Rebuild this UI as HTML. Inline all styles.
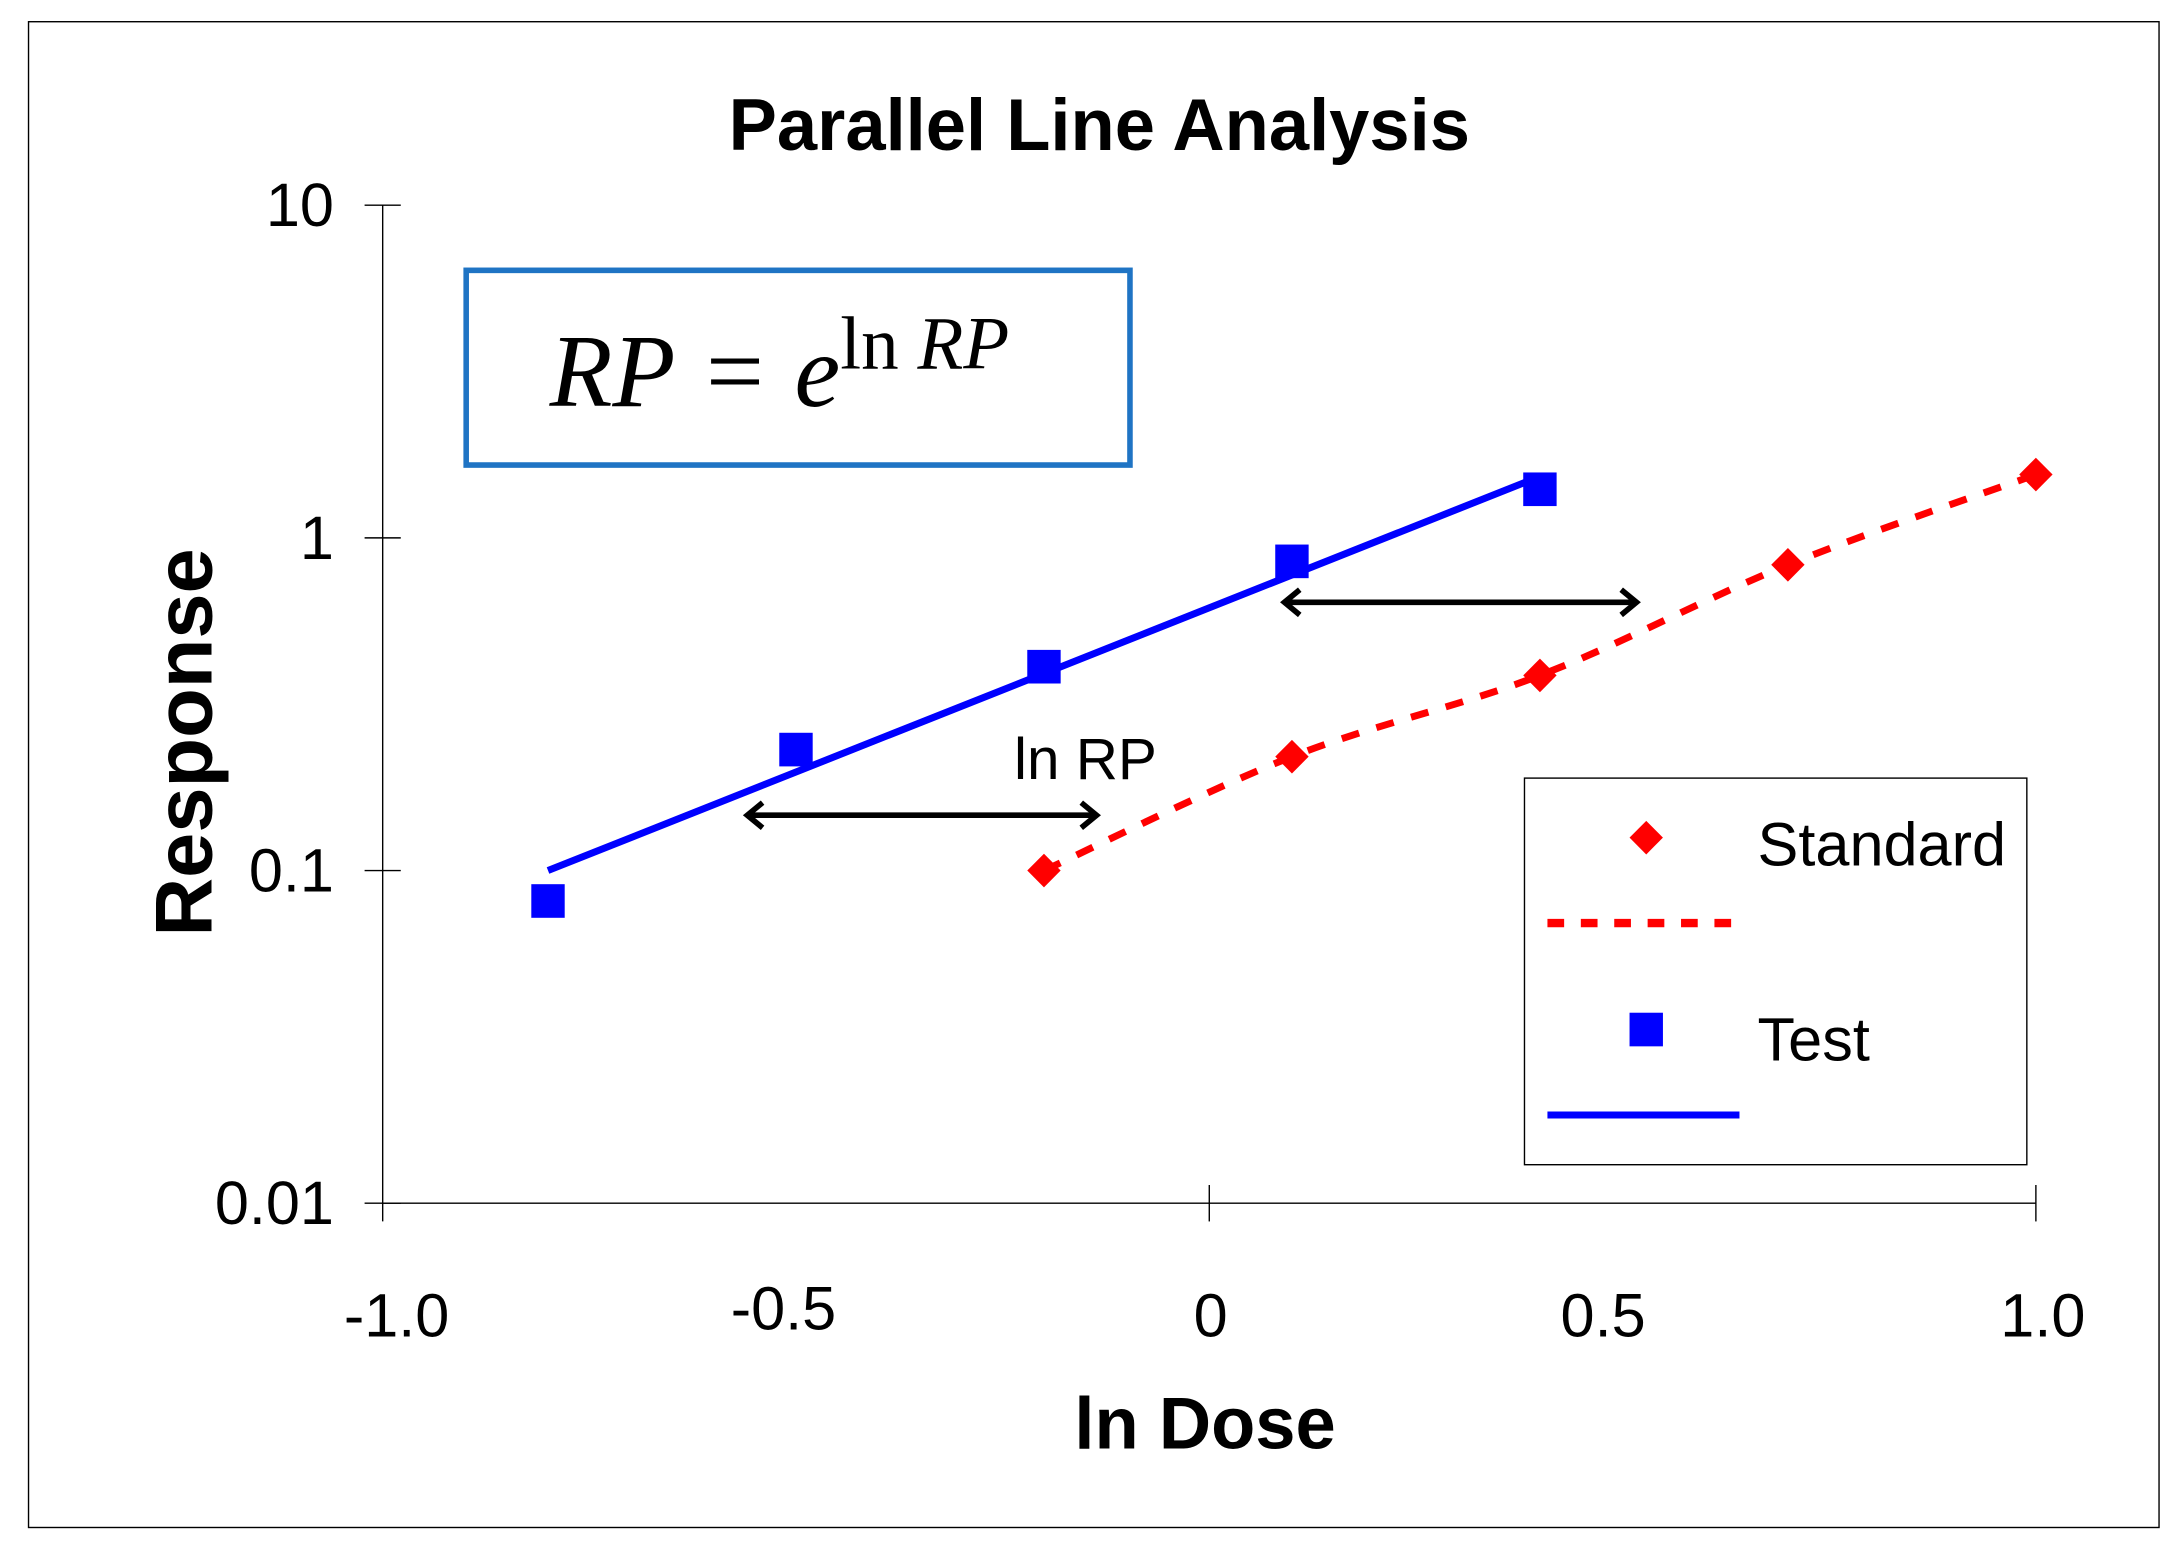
<!DOCTYPE html>
<html><head><meta charset="utf-8"><style>html,body{margin:0;padding:0;background:#fff}svg{display:block}</style></head>
<body>
<svg id="chart" width="2182" height="1545" viewBox="0 0 1568 1103" preserveAspectRatio="none" xmlns="http://www.w3.org/2000/svg" font-family="'Liberation Sans', Arial, sans-serif">
<rect x="20.5" y="15.5" width="1531" height="1075" fill="#fff" stroke="#000" stroke-width="1"/>
<text x="790" y="107" font-size="52" font-weight="bold" text-anchor="middle">Parallel Line Analysis</text>
<g id="axes"></g>
<text x="866" y="1034" font-size="52" font-weight="bold" text-anchor="middle">ln Dose</text>
<text transform="translate(152,530) rotate(-90)" font-size="58" font-weight="bold" text-anchor="middle">Response</text>
<rect x="335" y="193" width="477" height="139" fill="#fff" stroke="#1f74c4" stroke-width="4"/>
<text x="395" y="290" font-family="'Liberation Serif', serif" font-style="italic" font-size="74">RP = e<tspan font-style="normal" font-size="54" dy="-27">ln </tspan><tspan font-size="54">RP</tspan></text>
<g id="series"></g>
<g stroke="#000" stroke-width="4" fill="none">
<line x1="537" y1="582" x2="788" y2="582"/><polyline points="548,573 537,582 548,591"/><polyline points="777,573 788,582 777,591"/>
<line x1="923" y1="430" x2="1176" y2="430"/><polyline points="934,421 923,430 934,439"/><polyline points="1165,421 1176,430 1165,439"/>
</g>
<text x="780" y="556" font-size="42" text-anchor="middle">ln RP</text>
<g>
<rect x="1095.5" y="555.5" width="361" height="276" fill="#fff" stroke="#000" stroke-width="1"/>
<polygon points="1183,586 1195,598 1183,610 1171,598" fill="#ff0000"/>
<text x="1263" y="618" font-size="44">Standard</text>
<line x1="1112" y1="659" x2="1250" y2="659" stroke="#ff0000" stroke-width="6" stroke-dasharray="12,12"/>
<rect x="1171" y="723" width="24" height="24" fill="#0000ff"/>
<text x="1263" y="757" font-size="44">Test</text>
<line x1="1112" y1="796" x2="1250" y2="796" stroke="#0000ff" stroke-width="5"/>
</g>
</svg>
<script>
const xTicks=[-1.0,-0.5,0,0.5,1.0];
const xTickLabels=["-1.0","-0.5","0","0.5","1.0"];
const xTickMarks=[0,1.0];
const yTicks=[0.01,0.1,1,10];
const yTickLabels=["0.01","0.1","1","10"];
const testX=[-0.8,-0.5,-0.2,0.1,0.4];
const testY=[0.081,0.231,0.41,0.85,1.40];
const testFitX=[-0.8,0.4];
const testFitY=[0.1,1.53];
const stdX=[-0.2,0.1,0.4,0.7,1.0];
const stdY=[0.1,0.22,0.386,0.83,1.55];
const NS="http://www.w3.org/2000/svg";
function sx(v){return 869+v*594;}
function sy(v){return 384-Math.log10(v)*237.5;}
function mk(tag,attrs,parent){const e=document.createElementNS(NS,tag);for(const k in attrs)e.setAttribute(k,attrs[k]);parent.appendChild(e);return e;}
const ax=document.getElementById('axes');
let e=mk('line',{x1:sx(-1),y1:sy(10),x2:sx(-1),y2:sy(0.01)+13,stroke:'#000','stroke-width':1},ax);


e=mk('line',{x1:sx(-1),y1:sy(0.01),x2:sx(1),y2:sy(0.01),stroke:'#000','stroke-width':1},ax);


yTicks.forEach((v,i)=>{
 const t=mk('line',{x1:sx(-1)-13,y1:sy(v),x2:sx(-1)+13,y2:sy(v),stroke:'#000','stroke-width':1},ax);
 
 
 const l=mk('text',{x:240,y:sy(v)+15,'font-size':44,'text-anchor':'end'},ax);
 l.textContent=yTickLabels[i];
 
 
});
xTickMarks.forEach(v=>{
 const t=mk('line',{x1:sx(v),y1:sy(0.01)-13,x2:sx(v),y2:sy(0.01)+13,stroke:'#000','stroke-width':1},ax);
 
 
});
xTicks.forEach((v,i)=>{
 const l=mk('text',{x:sx(v)+(i==0?10:i==1?-9:i==4?5:i==3?-14:1),y:sy(0.01)+95+(i==1?-5:0),'font-size':44,'text-anchor':'middle'},ax);
 l.textContent=xTickLabels[i];
 
 
});
const sg=document.getElementById('series');
e=mk('line',{x1:sx(testFitX[0]),y1:sy(testFitY[0]),x2:sx(testFitX[1]),y2:sy(testFitY[1]),stroke:'#0000ff','stroke-width':5},sg);


const P=stdX.map((x,i)=>[sx(x),sy(stdY[i])]);
let d=`M${P[0][0]},${P[0][1]}`;
for(let i=0;i<P.length-1;i++){const p0=P[Math.max(0,i-1)],p1=P[i],p2=P[i+1],p3=P[Math.min(P.length-1,i+2)];
 const c1=[p1[0]+(p2[0]-p0[0])/6,p1[1]+(p2[1]-p0[1])/6],c2=[p2[0]-(p3[0]-p1[0])/6,p2[1]-(p3[1]-p1[1])/6];
 d+=` C${c1[0]},${c1[1]} ${c2[0]},${c2[1]} ${p2[0]},${p2[1]}`;}
e=mk('path',{d:d,fill:'none',stroke:'#ff0000','stroke-width':5,'stroke-dasharray':'13,13'},sg);


testX.forEach((x,i)=>{
 const r=mk('rect',{x:sx(x)-12,y:sy(testY[i])-12,width:24,height:24,fill:'#0000ff'},sg);
 
 
});
stdX.forEach((x,i)=>{
 const cx=sx(x),cy=sy(stdY[i]);
 const p=mk('polygon',{points:`${cx},${cy-12} ${cx+12},${cy} ${cx},${cy+12} ${cx-12},${cy}`,fill:'#ff0000'},sg);
 
 
});
</script>
</body></html>
